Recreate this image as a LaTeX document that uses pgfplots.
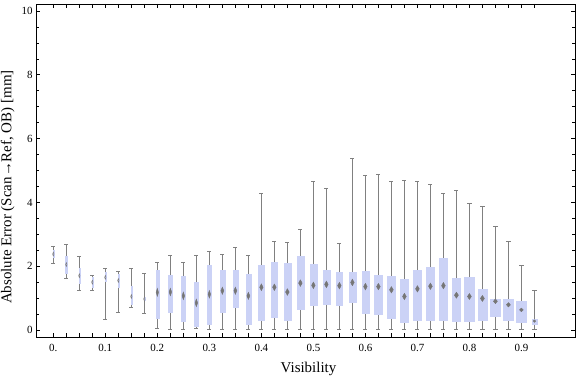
\documentclass[border=0pt]{standalone}
\usepackage{fontspec}
\setmainfont{Liberation Serif}
\usepackage{pgfplots}
\pgfplotsset{compat=1.18}
\usepgfplotslibrary{statistics}
\definecolor{boxblue}{RGB}{203,210,246}
\definecolor{wgray}{RGB}{128,128,128}
\definecolor{medgray}{RGB}{118,118,118}
\pgfplotsset{medw/.initial=2bp, medh/.initial=3bp, medo/.initial=1}
% x, lower whisker, Q1, median, Q3, upper whisker, box width, diamond half-width, half-height
\newcommand{\bx}[9]{\addplot[boxplot prepared={draw direction=y, draw position=#1, lower whisker=#2, lower quartile=#3, median=#4, upper quartile=#5, upper whisker=#6, box extend=#7}, medw=#8, medh=#9] coordinates {};}
\newcommand{\bxs}[7]{\addplot[boxplot prepared={draw direction=y, draw position=#1, lower whisker=#2, lower quartile=#3, median=#4, upper quartile=#5, upper whisker=#6, box extend=#7}, medw=0.7bp, medh=2bp, medo=0.2] coordinates {};}
\begin{document}
\begin{tikzpicture}
\begin{axis}[name=ax,
  scale only axis, width=539bp, height=333bp,
  xmin=-0.0333, xmax=1.003, ymin=-0.22, ymax=10.22,
  tick pos=both, tick align=inside,
  major tick length=4bp, minor tick length=2.6bp,
  xtick={0,0.025,0.05,0.075,0.1,0.125,0.15,0.175,0.2,0.225,0.25,0.275,0.3,0.325,0.35,0.375,0.4,0.425,0.45,0.475,0.5,0.525,0.55,0.575,0.6,0.625,0.65,0.675,0.7,0.725,0.75,0.775,0.8,0.825,0.85,0.875,0.9,0.925},
  xticklabels={0.,,,,0.1,,,,0.2,,,,0.3,,,,0.4,,,,0.5,,,,0.6,,,,0.7,,,,0.8,,,,0.9,},
  ytick={0,2,4,6,8,10}, minor y tick num=3,
  /pgf/number format/assume math mode=true,
  axis line style={line width=0.9bp},
  tick style={black, line width=0.7bp},
  tick label style={font=\fontsize{11}{13}\selectfont},
  xticklabel style={yshift=-4bp},
  label style={font=\fontsize{15}{18}\selectfont},
  xlabel={Visibility},
  xlabel style={at={(axis description cs:0.5,0)}, anchor=base, xshift=3bp, yshift=-35.5bp},
  ylabel={Absolute Error (Scan→Ref, OB) [mm]},
  ylabel style={at={(ticklabel cs:0.45)}},
  boxplot/draw direction=y,
  boxplot/whisker extend=0.008,
  boxplot/every whisker/.style={draw=wgray, line width=1bp},
  boxplot/draw/box/.code={%
    \fill[boxblue] (boxplot box cs:\pgfplotsboxplotvalue{lower quartile},0) rectangle (boxplot box cs:\pgfplotsboxplotvalue{upper quartile},1);
  },
  boxplot/draw/median/.code={%
    \fill[medgray, fill opacity=\pgfkeysvalueof{/pgfplots/medo}] (boxplot box cs:\pgfplotsboxplotvalue{median},0.5)
      ++(0pt,\pgfkeysvalueof{/pgfplots/medh})
      -- ++(\pgfkeysvalueof{/pgfplots/medw},-\pgfkeysvalueof{/pgfplots/medh})
      -- ++(-\pgfkeysvalueof{/pgfplots/medw},-\pgfkeysvalueof{/pgfplots/medh})
      -- ++(-\pgfkeysvalueof{/pgfplots/medw},\pgfkeysvalueof{/pgfplots/medh}) -- cycle;
  },
]
\bxs{0.000}{2.07}{2.27}{2.38}{2.49}{2.62}{0.0019}
\bxs{0.025}{1.60}{1.79}{2.05}{2.31}{2.67}{0.0038}
\bxs{0.050}{1.25}{1.48}{1.70}{1.95}{2.29}{0.0019}
\bxs{0.075}{1.25}{1.33}{1.50}{1.64}{1.70}{0.0019}
\bxs{0.100}{0.34}{1.52}{1.65}{1.80}{1.92}{0.0019}
\bxs{0.125}{0.55}{1.35}{1.55}{1.75}{1.82}{0.0019}
\bxs{0.150}{0.72}{0.82}{1.05}{1.37}{1.92}{0.0019}
\bxs{0.175}{0.53}{0.93}{0.97}{1.02}{1.77}{0.0019}
\bx{0.200}{0.06}{0.38}{1.18}{1.86}{2.10}{0.0063}{1.2bp}{4bp}
\bx{0.225}{0.00}{0.57}{1.19}{1.73}{2.35}{0.0077}{1.3bp}{3.8bp}
\bx{0.250}{0.00}{0.27}{1.07}{1.70}{2.13}{0.0077}{1.3bp}{3.8bp}
\bx{0.275}{0.05}{0.13}{0.85}{1.51}{2.32}{0.0077}{1.3bp}{3.8bp}
\bx{0.300}{0.00}{0.18}{1.12}{2.02}{2.45}{0.0077}{1.3bp}{3.8bp}
\bx{0.325}{0.00}{0.55}{1.23}{1.88}{2.38}{0.0096}{1.5bp}{3.6bp}
\bx{0.350}{0.03}{0.71}{1.23}{1.86}{2.60}{0.0096}{1.5bp}{3.6bp}
\bx{0.375}{0.00}{0.18}{1.07}{1.76}{2.35}{0.0096}{1.5bp}{3.6bp}
\bx{0.400}{0.00}{0.31}{1.34}{2.02}{4.27}{0.011}{1.7bp}{3.4bp}
\bx{0.425}{0.00}{0.40}{1.34}{2.11}{2.76}{0.0125}{1.8bp}{3.3bp}
\bx{0.450}{0.00}{0.31}{1.19}{2.10}{2.73}{0.0135}{1.8bp}{3.3bp}
\bx{0.475}{0.00}{0.66}{1.47}{2.30}{3.14}{0.0135}{1.8bp}{3.3bp}
\bx{0.500}{0.00}{0.78}{1.40}{2.07}{4.67}{0.0135}{1.8bp}{3.3bp}
\bx{0.525}{0.00}{0.80}{1.43}{1.86}{4.45}{0.014}{1.8bp}{3.3bp}
\bx{0.550}{0.00}{0.77}{1.39}{1.80}{2.70}{0.0125}{1.8bp}{3.3bp}
\bx{0.575}{0.00}{0.87}{1.49}{1.80}{5.39}{0.0135}{1.8bp}{3.3bp}
\bx{0.600}{0.00}{0.52}{1.36}{1.83}{4.84}{0.0135}{1.8bp}{3.3bp}
\bx{0.625}{0.00}{0.49}{1.36}{1.73}{4.89}{0.0154}{1.9bp}{3.2bp}
\bx{0.650}{0.00}{0.36}{1.26}{1.70}{4.64}{0.0154}{1.9bp}{3.2bp}
\bx{0.675}{0.00}{0.24}{1.05}{1.58}{4.68}{0.0154}{1.9bp}{3.2bp}
\bx{0.700}{0.00}{0.30}{1.29}{1.86}{4.64}{0.0154}{1.9bp}{3.2bp}
\bx{0.725}{0.00}{0.30}{1.37}{1.98}{4.55}{0.0154}{1.9bp}{3.2bp}
\bx{0.750}{0.00}{0.30}{1.39}{2.24}{4.29}{0.0154}{1.9bp}{3.2bp}
\bx{0.775}{0.00}{0.27}{1.09}{1.61}{4.36}{0.0163}{2bp}{3bp}
\bx{0.800}{0.00}{0.27}{1.05}{1.67}{3.98}{0.0183}{2bp}{3bp}
\bx{0.825}{0.00}{0.30}{0.99}{1.29}{3.88}{0.0173}{2bp}{3bp}
\bx{0.850}{0.00}{0.43}{0.90}{0.98}{3.23}{0.0192}{2bp}{2.4bp}
\bx{0.875}{0.00}{0.30}{0.79}{0.98}{2.76}{0.0192}{2bp}{2.2bp}
\bx{0.900}{0.00}{0.24}{0.63}{0.89}{2.01}{0.0192}{1.9bp}{1.8bp}
\bx{0.925}{0.03}{0.18}{0.28}{0.35}{1.23}{0.0102}{1.3bp}{1.3bp}
\end{axis}
\pgfresetboundingbox
\path[use as bounding box] ([shift={(-36bp,-40bp)}]ax.south west) rectangle ([shift={(1bp,4bp)}]ax.north east);
\end{tikzpicture}
\end{document}
